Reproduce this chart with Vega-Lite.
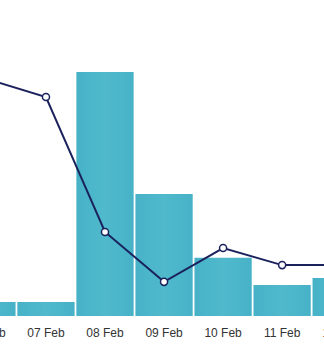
{
  "$schema": "https://vega.github.io/schema/vega-lite/v6.json",
  "width": 324,
  "height": 316,
  "autosize": {"type": "none"},
  "padding": {"left": 0, "top": 0, "right": 0, "bottom": 33},
  "background": "white",
  "config": {"view": {"stroke": null}},
  "data": {
    "values": [
      {"day": "06 Feb", "bars": 4.4, "line": 75.0},
      {"day": "07 Feb", "bars": 4.4, "line": 69.3},
      {"day": "08 Feb", "bars": 77.2, "line": 26.6},
      {"day": "09 Feb", "bars": 38.6, "line": 10.8},
      {"day": "10 Feb", "bars": 18.4, "line": 21.5},
      {"day": "11 Feb", "bars": 9.8, "line": 16.1},
      {"day": "12 Feb", "bars": 12.0, "line": 16.1}
    ]
  },
  "encoding": {
    "x": {
      "field": "day",
      "type": "ordinal",
      "sort": null,
      "scale": {"range": [-41.7, 369.8], "paddingInner": 0.03, "paddingOuter": 0},
      "axis": {
        "title": null,
        "ticks": false,
        "domain": false,
        "labelAngle": 0,
        "labelPadding": 11,
        "labelFont": "Liberation Sans",
        "labelFontSize": 12,
        "labelColor": "#333333",
        "labelOverlap": false,
        "labelBound": false,
        "grid": false
      }
    }
  },
  "layer": [
    {
      "mark": {
        "type": "bar",
        "color": {
          "gradient": "linear",
          "x1": 0, "y1": 0, "x2": 1, "y2": 0,
          "stops": [
            {"offset": 0, "color": "#47b2c7"},
            {"offset": 0.5, "color": "#50b9cc"},
            {"offset": 1, "color": "#47b2c7"}
          ]
        }
      },
      "encoding": {
        "y": {"field": "bars", "type": "quantitative", "scale": {"domain": [0, 100]}, "axis": null}
      }
    },
    {
      "mark": {
        "type": "line",
        "color": "#1a215c",
        "strokeWidth": 2,
        "point": {"filled": true, "fill": "white", "stroke": "#1a215c", "strokeWidth": 1.5, "size": 50}
      },
      "encoding": {
        "y": {"field": "line", "type": "quantitative", "scale": {"domain": [0, 100]}, "axis": null}
      }
    }
  ]
}
